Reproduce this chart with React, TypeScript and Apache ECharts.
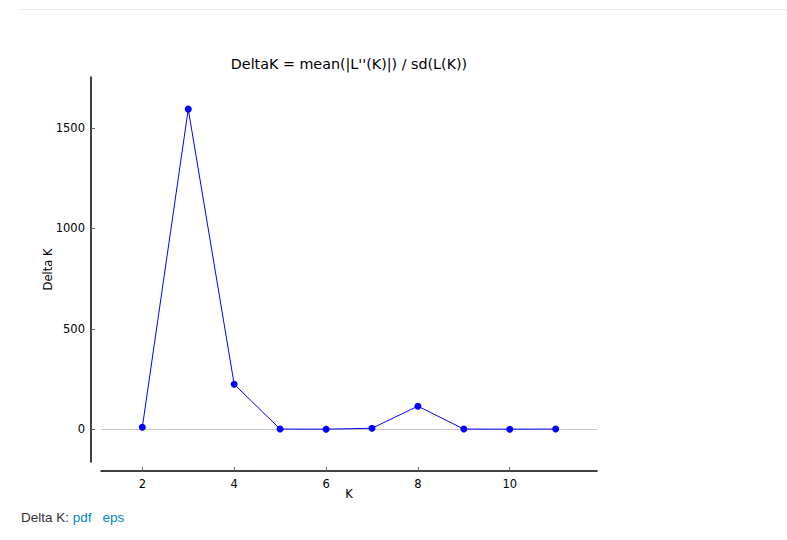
import React, { useEffect, useRef } from "react";
import * as echarts from "echarts";

const kValues = [2, 3, 4, 5, 6, 7, 8, 9, 10, 11];
const deltaK = [10, 1594, 224, 1, 0.5, 5, 115, 1, 0.5, 1];
const xTicks = [2, 4, 6, 8, 10];
const yTicks = [0, 500, 1000, 1500];
const titleText = "DeltaK = mean(|L''(K)|) / sd(L(K))";

export default function App() {
  const ref = useRef<HTMLDivElement>(null);
  useEffect(() => {
    if (!ref.current) return;
    const chart = echarts.init(ref.current, null, { renderer: "svg" });
    const font = "'DejaVu Sans', sans-serif";
    chart.setOption({
      animation: false,
      textStyle: { fontFamily: font },
      title: {
        text: titleText,
        left: 344,
        top: 52,
        textAlign: "center",
        textStyle: { fontFamily: font, fontSize: 14.3, fontWeight: "normal", color: "#000" },
      },
      grid: { left: 101, right: 190, top: 77, bottom: 78 },
      xAxis: {
        type: "value",
        min: 1.1,
        max: 11.9,
        offset: 9,
        name: "K",
        nameLocation: "middle",
        nameGap: 17,
        nameMoveOverlap: false,
        nameTextStyle: { fontFamily: font, fontSize: 11.5, color: "#000" },
        axisLine: { show: true, onZero: false, lineStyle: { color: "#000", width: 1.5 } },
        axisTick: { show: true, inside: true, length: 4, lineStyle: { color: "#666" }, customValues: xTicks },
        axisLabel: { fontFamily: font, fontSize: 11.5, color: "#000", margin: 7, customValues: xTicks, formatter: (v: number) => String(v) },
        splitLine: { show: false },
      },
      yAxis: {
        type: "value",
        min: -163,
        max: 1754,
        offset: 10,
        name: "Delta K",
        nameLocation: "middle",
        nameGap: 37,
        nameMoveOverlap: false,
        nameTextStyle: { fontFamily: font, fontSize: 11.5, color: "#000" },
        axisLine: { show: true, onZero: false, lineStyle: { color: "#000", width: 1.5 } },
        axisTick: { show: true, inside: true, length: 4, lineStyle: { color: "#666" }, customValues: yTicks },
        axisLabel: { fontFamily: font, fontSize: 11.5, color: "#000", margin: 6, customValues: yTicks, formatter: (v: number) => String(v) },
        splitLine: { show: false },
      },
      series: [
        {
          type: "line",
          data: kValues.map((k, i) => [k, deltaK[i]]),
          symbol: "circle",
          symbolSize: 7,
          lineStyle: { color: "#0000ff", width: 1 },
          itemStyle: { color: "#0000ff" },
          z: 3,
          markLine: {
            silent: true,
            symbol: ["none", "none"],
            label: { show: false },
            lineStyle: { color: "#c8c8c8", width: 1, type: "solid" },
            data: [{ yAxis: 0 }],
            z: 1,
          },
        },
      ],
    });
    return () => chart.dispose();
  }, []);
  return (
    <div style={{ position: "absolute", left: 0, top: 0, width: 787, height: 540, background: "#fff" }}>
      <div style={{ position: "absolute", left: 21, right: 0, top: 9, height: 1, background: "#e8e8e8" }} />
      <div ref={ref} style={{ position: "absolute", left: 0, top: 0, width: 787, height: 540 }} />
      <div
        style={{
          position: "absolute",
          left: 21,
          top: 510,
          fontFamily: "'Liberation Sans', Arial, sans-serif",
          fontSize: 13.5,
          color: "#333",
          whiteSpace: "nowrap",
        }}
      >
        Delta K: <span style={{ color: "#0088cc" }}>pdf</span>
        <span style={{ color: "#0088cc", marginLeft: 11 }}>eps</span>
      </div>
    </div>
  );
}
